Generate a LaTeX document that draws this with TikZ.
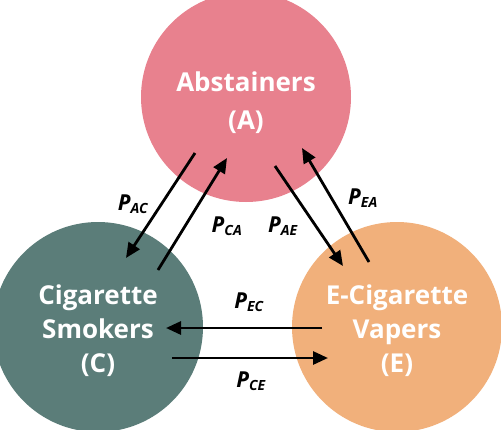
\documentclass[tikz,border=0pt]{standalone}
\usepackage{fontspec}
\setmainfont{Open Sans}
\setsansfont{Open Sans}
\usetikzlibrary{arrows.meta}
\definecolor{cA}{HTML}{E8818E}
\definecolor{cC}{HTML}{5B7D79}
\definecolor{cE}{HTML}{F1B07B}
\tikzset{
  state/.style={circle, minimum size=210pt, inner sep=0pt, text=white, align=center, font=\fontsize{26}{34}\selectfont\bfseries},
  flow/.style={line width=2.8pt, -{Triangle[length=15pt,width=13pt]}},
  plabel/.style={font=\fontsize{22}{22}\selectfont\bfseries\itshape, inner sep=1pt}
}
\newcommand{\Pl}[1]{P\textsubscript{\fontsize{14}{14}\selectfont #1}}
\begin{document}
\begin{tikzpicture}[x=1pt,y=-1pt]
\useasboundingbox (0,0) rectangle (501,429);
\clip (0,0) rectangle (501,429);
\fill[white] (0,0) rectangle (501,429);
\node[state, fill=cA] (A) at (246,97) {};
\node[state, fill=cC] (C) at (98,327) {};
\node[state, fill=cE] (E) at (397,327) {};
\node[text=white, align=center, font=\fontsize{26}{38}\selectfont\bfseries] (At) at (246,103) {Abstainers\\(A)};
\node[text=white, align=center, font=\fontsize{26}{34}\selectfont\bfseries] (Ct) at (98,331) {Cigarette\\Smokers\\(C)};
\node[text=white, align=center, font=\fontsize{26}{34}\selectfont\bfseries] (Et) at (397,331) {E-Cigarette\\Vapers\\(E)};
\coordinate (ac1) at (195,153);
\coordinate (ac2) at (126,258);
\coordinate (ca1) at (158,270);
\coordinate (ca2) at (227,158);
\coordinate (ae1) at (275,166);
\coordinate (ae2) at (343,266);
\coordinate (ea1) at (369,262);
\coordinate (ea2) at (302,148);
\coordinate (ec1) at (322,328);
\coordinate (ec2) at (166,328);
\coordinate (ce1) at (172,358);
\coordinate (ce2) at (328,358);
\draw[flow] (ac1) -- (ac2);
\draw[flow] (ca1) -- (ca2);
\draw[flow] (ae1) -- (ae2);
\draw[flow] (ea1) -- (ea2);
\draw[flow] (ec1) -- (ec2);
\draw[flow] (ce1) -- (ce2);
\node[plabel] (lac) at (133,204) {\Pl{AC}};
\node[plabel] (lca) at (227,226) {\Pl{CA}};
\node[plabel] (lae) at (283,226) {\Pl{AE}};
\node[plabel] (lea) at (363,198) {\Pl{EA}};
\node[plabel] (lec) at (249,302) {\Pl{EC}};
\node[plabel] (lce) at (251,381) {\Pl{CE}};
\end{tikzpicture}
\end{document}
